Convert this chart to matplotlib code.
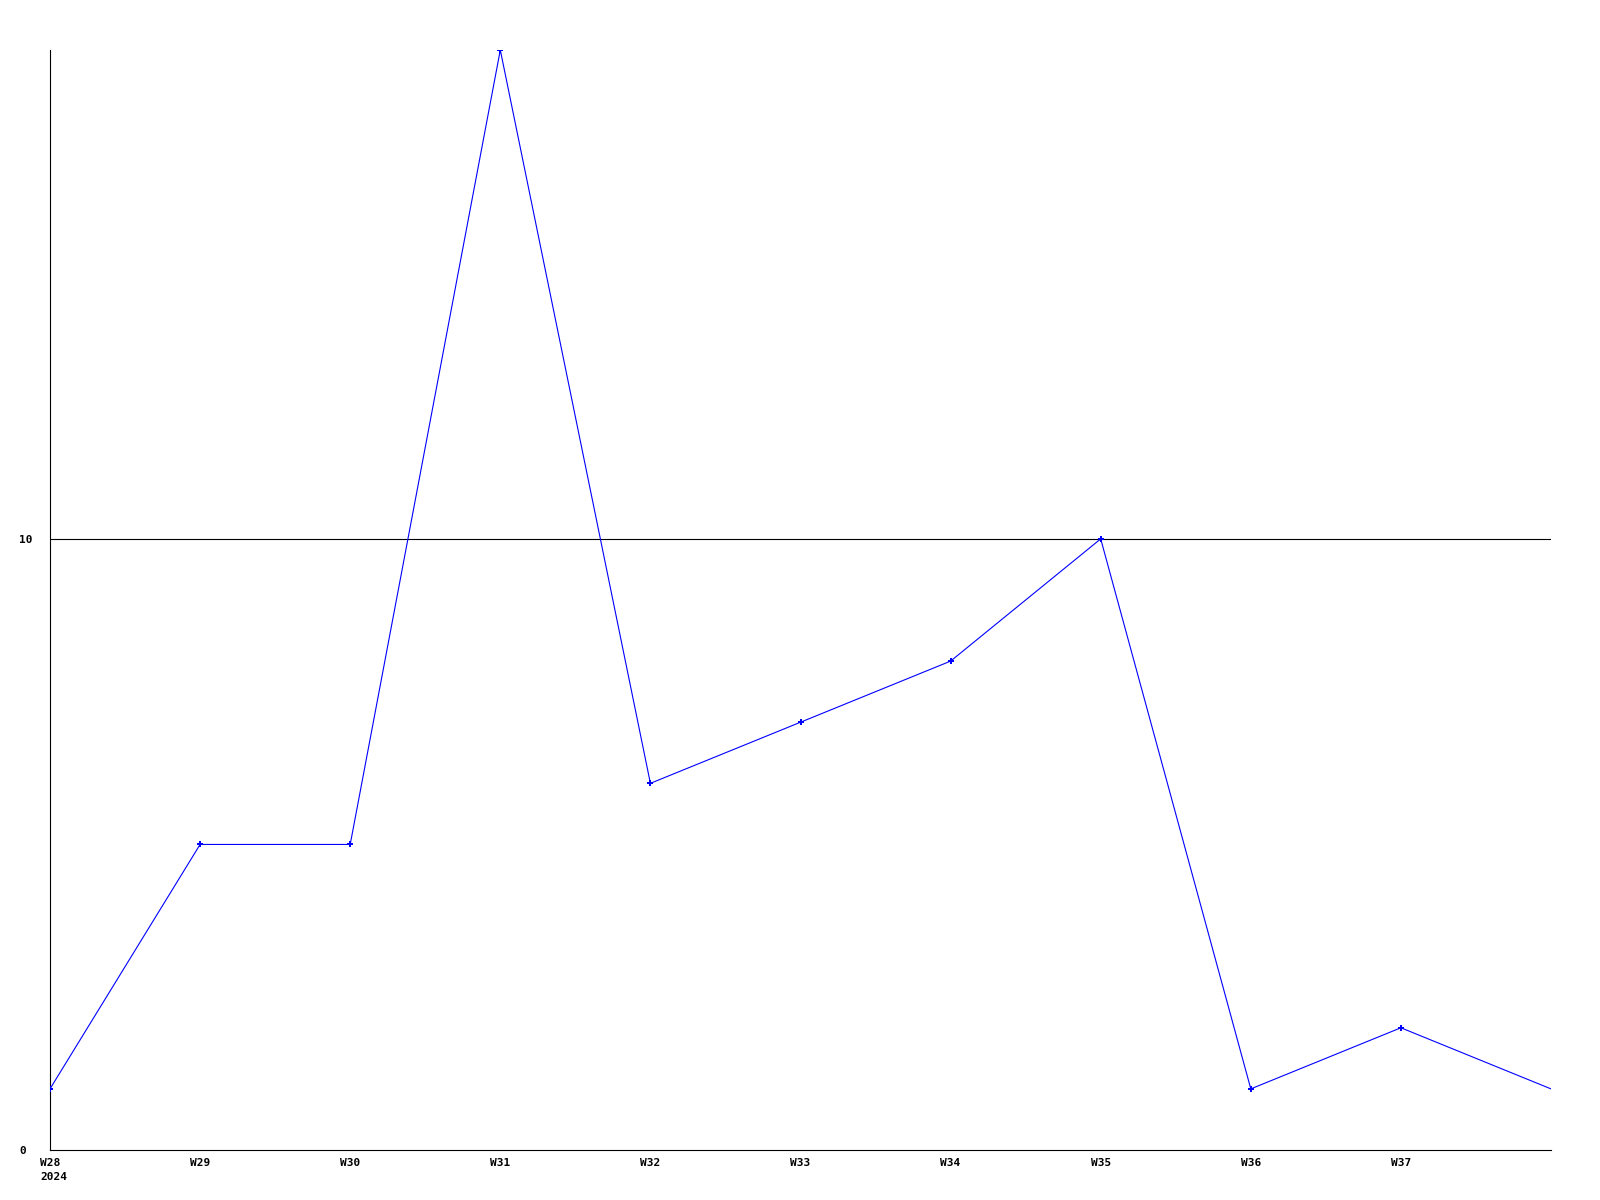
import matplotlib
matplotlib.use("Agg")
import matplotlib.pyplot as plt

weeks = ["W28", "W29", "W30", "W31", "W32", "W33", "W34", "W35", "W36", "W37", "W38"]
values = [1, 5, 5, 18, 6, 7, 8, 10, 1, 2, 1]
tick_labels = ["W28", "W29", "W30", "W31", "W32", "W33", "W34", "W35", "W36", "W37"]
year_label = "2024"
y_ticks = [0, 10]

plt.rcParams['font.family'] = ['DejaVu Sans Mono']
plt.rcParams['font.weight'] = 'bold'

fig = plt.figure(figsize=(16, 12), dpi=100)
ax = fig.add_axes([50/1600, 1 - 1150/1200, (1551-50)/1600, (1150-50)/1200])

x = list(range(len(values)))
ax.plot(x, values, color=(0, 0, 1), linewidth=0.8, marker='P', markersize=4,
        markeredgewidth=0, markevery=list(range(len(values) - 1)), zorder=3)

ax.set_xlim(0, len(values) - 1)
ax.set_ylim(0, 18)

ax.axhline(10, color='black', linewidth=0.8, zorder=1)

ax.set_xticks(list(range(len(tick_labels))))
ax.set_xticklabels(tick_labels, fontsize=8, fontweight='bold')
ax.set_yticks(y_ticks)
ax.set_yticklabels([str(v) for v in y_ticks], fontsize=8, fontweight='bold', ha='left')
ax.tick_params(axis='x', length=0, pad=5.5)
ax.tick_params(axis='y', length=0, pad=22.3)

ax.annotate(year_label, xy=(0, 0), xycoords=('data', 'axes fraction'),
            xytext=(-7.2, -19.4), textcoords='offset points',
            ha='left', va='center', fontsize=8, fontweight='bold')

for s in ['top', 'right']:
    ax.spines[s].set_visible(False)
for s in ['left', 'bottom']:
    ax.spines[s].set_linewidth(0.8)
    ax.spines[s].set_color('black')

fig.savefig("out.png", dpi=100)
